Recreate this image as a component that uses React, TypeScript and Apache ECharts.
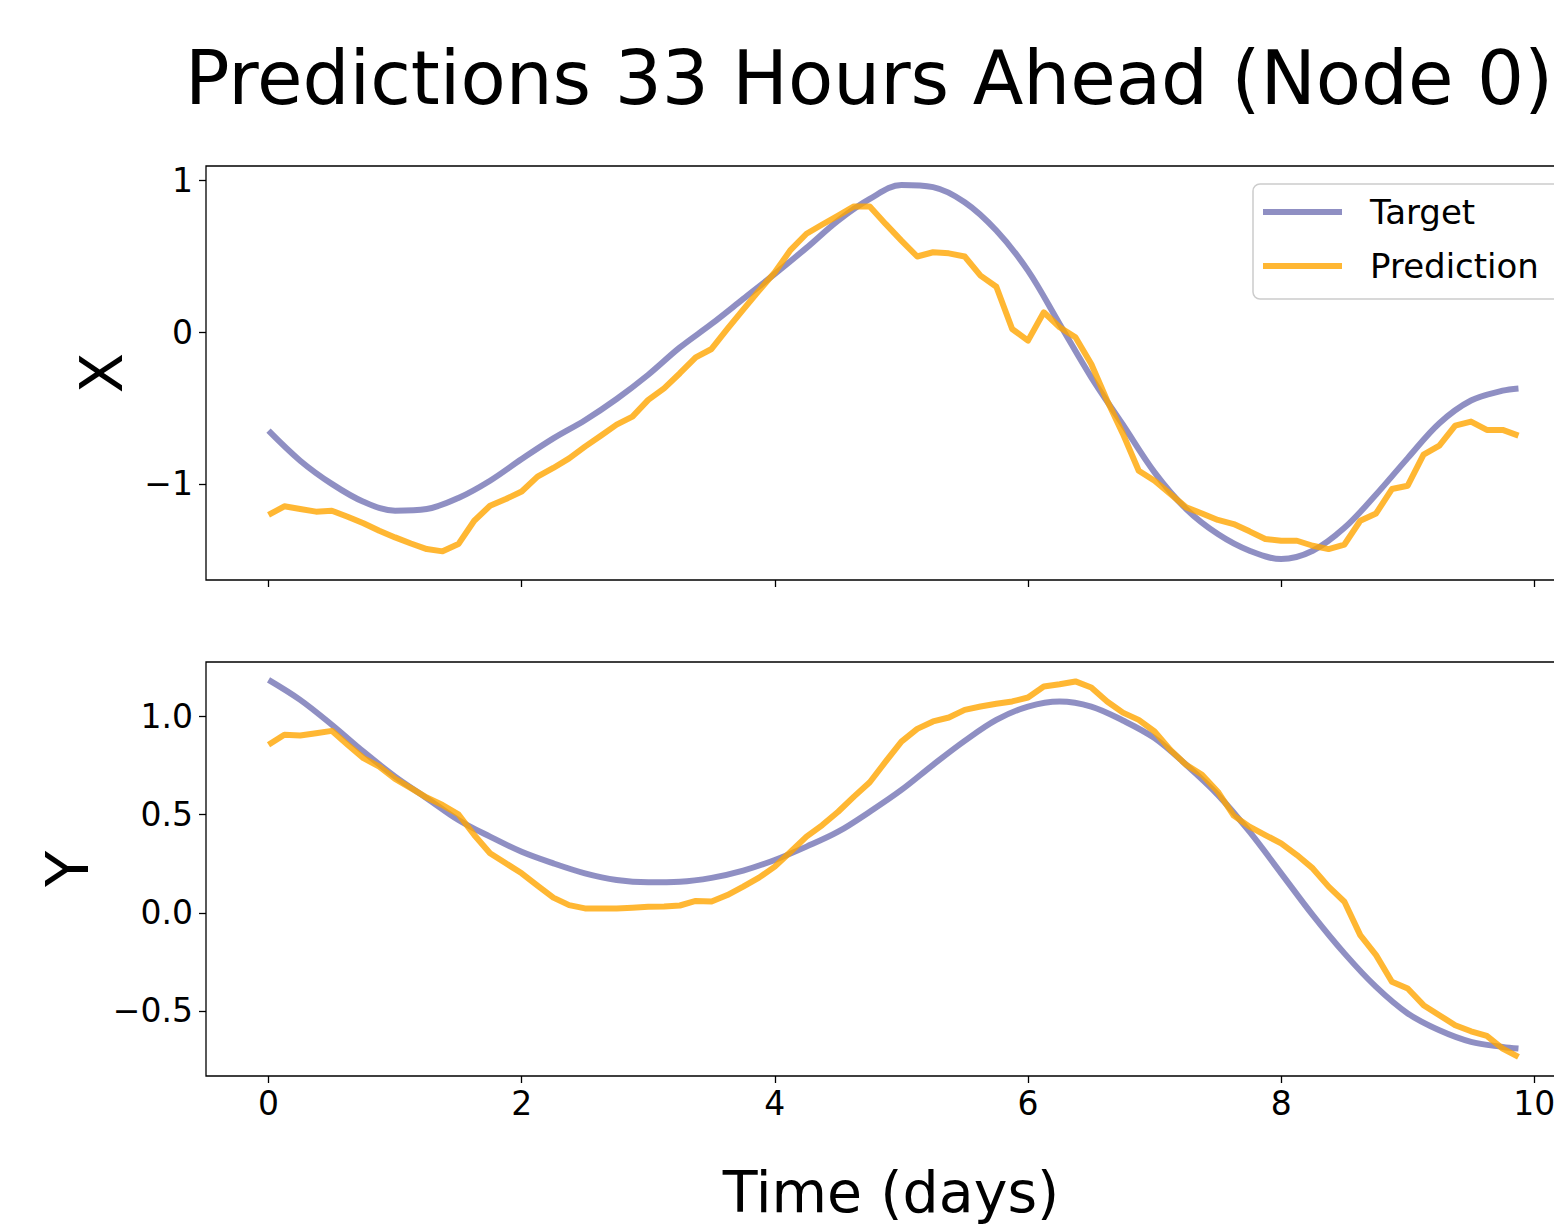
import React, { useEffect, useRef } from 'react';
import * as echarts from 'echarts';

// ---------- data ----------
const STEP_DAYS = 0.125; // predictions sampled every 3 hours

const targetDays = [
  0, 0.25, 0.5, 0.75, 1.0, 1.25, 1.5, 1.75, 2.0, 2.25, 2.5, 2.75, 3.0, 3.25, 3.5, 3.75,
  4.0, 4.25, 4.5, 4.75, 5.0, 5.25, 5.5, 5.75, 6.0, 6.25, 6.5, 6.75, 7.0, 7.25, 7.5, 7.75,
  8.0, 8.25, 8.5, 8.75, 9.0, 9.25, 9.5, 9.75, 9.875,
];

const targetX = [
  -0.649, -0.847, -1.0, -1.118, -1.177, -1.166, -1.093, -0.979, -0.836, -0.7, -0.58, -0.44,
  -0.28, -0.1, 0.055, 0.22, 0.385, 0.557, 0.737, 0.88, 0.972, 0.958, 0.858, 0.671, 0.407,
  0.055, -0.297, -0.61, -0.924, -1.166, -1.331, -1.441, -1.496, -1.441, -1.29, -1.07,
  -0.83, -0.6, -0.45, -0.385, -0.37,
];

const predX = [
  -1.205, -1.148, -1.166, -1.183, -1.177, -1.217, -1.26, -1.309, -1.353, -1.393, -1.43,
  -1.445, -1.397, -1.243, -1.144, -1.1, -1.05, -0.952, -0.895, -0.832, -0.754, -0.682,
  -0.609, -0.556, -0.446, -0.37, -0.27, -0.165, -0.11, 0.022, 0.15, 0.275, 0.396, 0.544,
  0.65, 0.711, 0.77, 0.83, 0.83, 0.715, 0.605, 0.5, 0.528, 0.521, 0.5, 0.374, 0.3, 0.022,
  -0.055, 0.132, 0.033, -0.033, -0.209, -0.45, -0.67, -0.913, -0.979, -1.067, -1.155,
  -1.195, -1.238, -1.265, -1.313, -1.364, -1.375, -1.375, -1.408, -1.43, -1.4, -1.243,
  -1.195, -1.034, -1.012, -0.807, -0.748, -0.616, -0.589, -0.644, -0.644, -0.682,
];

const targetY = [
  1.187, 1.085, 0.958, 0.821, 0.694, 0.584, 0.473, 0.388, 0.311, 0.252, 0.201, 0.167,
  0.155, 0.158, 0.178, 0.215, 0.269, 0.337, 0.413, 0.515, 0.626, 0.754, 0.876, 0.983,
  1.051, 1.077, 1.051, 0.98, 0.89, 0.754, 0.601, 0.413, 0.201, -0.012, -0.207, -0.378,
  -0.513, -0.599, -0.658, -0.684, -0.692,
];

const predY = [
  0.856, 0.907, 0.903, 0.915, 0.927, 0.856, 0.788, 0.745, 0.682, 0.635, 0.587, 0.549,
  0.502, 0.396, 0.303, 0.252, 0.201, 0.138, 0.077, 0.039, 0.022, 0.022, 0.022, 0.026,
  0.03, 0.032, 0.037, 0.06, 0.057, 0.09, 0.133, 0.179, 0.235, 0.311, 0.388, 0.447, 0.515,
  0.592, 0.665, 0.77, 0.872, 0.937, 0.975, 0.995, 1.034, 1.051, 1.065, 1.077, 1.097,
  1.153, 1.165, 1.179, 1.148, 1.077, 1.02, 0.983, 0.924, 0.83, 0.754, 0.703, 0.617, 0.495,
  0.439, 0.396, 0.354, 0.294, 0.226, 0.133, 0.056, -0.114, -0.216, -0.352, -0.386, -0.471,
  -0.522, -0.573, -0.604, -0.628, -0.692, -0.735,
];

const xTicks = [0, 2, 4, 6, 8, 10];
const yTopTicks = [-1, 0, 1];
const yBottomTicks = [-0.5, 0, 0.5, 1.0];

const TITLE = 'Predictions 33 Hours Ahead (Node 0)';
const X_LABEL = 'Time (days)';
const TOP_Y_LABEL = 'X';
const BOTTOM_Y_LABEL = 'Y';
const SERIES_NAMES = ['Target', 'Prediction'];

// ---------- styles ----------
const FONT = '"DejaVu Sans", "Noto Sans", sans-serif';
const PURPLE = 'rgba(20,20,130,0.48)';
const ORANGE = 'rgba(255,165,0,0.8)';

const X_MIN = -0.494;
const X_MAX = 10.369;

export default function App() {
  const ref = useRef<HTMLDivElement>(null);

  useEffect(() => {
    const chart = echarts.init(ref.current!, null, { renderer: 'svg' });
    const pair = (xs: number[], ys: number[]) => ys.map((y, i) => [xs[i], y]);
    const predDays = predX.map((_, i) => i * STEP_DAYS);
    const minus = (s: string) => s.replace('-', '\u2212');

    const tickStyle = { color: '#000', width: 1.3 };

    const xAxisBase = (gridIndex: number, showLabels: boolean) => ({
      type: 'value',
      gridIndex,
      min: X_MIN,
      max: X_MAX,
      splitLine: { show: false },
      axisLine: { show: false, onZero: false },
      axisTick: { show: true, inside: false, length: 7, lineStyle: tickStyle, customValues: xTicks },
      axisLabel: {
        show: showLabels,
        customValues: xTicks,
        fontSize: 33,
        fontFamily: FONT,
        color: '#000',
        margin: 11,
        formatter: (v: number) => minus(String(v)),
      },
    });

    const yAxisBase = (gridIndex: number, min: number, max: number, ticks: number[], fmt: (v: number) => string) => ({
      type: 'value',
      gridIndex,
      min,
      max,
      splitLine: { show: false },
      axisLine: { show: false, onZero: false },
      axisTick: { show: true, inside: false, length: 7, lineStyle: tickStyle, customValues: ticks },
      axisLabel: {
        customValues: ticks,
        fontSize: 33,
        fontFamily: FONT,
        color: '#000',
        margin: 13,
        formatter: fmt,
      },
    });

    const lineSeries = (name: string, idx: number, data: number[][], color: string, smooth: number | boolean) => ({
      type: 'line',
      name,
      xAxisIndex: idx,
      yAxisIndex: idx,
      data,
      showSymbol: false,
      symbol: 'none',
      smooth,
      lineStyle: { color, width: 6, cap: 'butt', join: 'round' },
      itemStyle: { color },
      emphasis: { disabled: true },
    });

    const gridBase = {
      left: 206,
      width: 1375,
      height: 414,
      show: true,
      borderColor: '#000',
      borderWidth: 1.3,
      backgroundColor: 'transparent',
      containLabel: false,
      outerBoundsMode: 'none',
    };

    chart.setOption({
      animation: false,
      backgroundColor: '#ffffff',
      grid: [
        { ...gridBase, top: 166 },
        { ...gridBase, top: 662 },
      ],
      xAxis: [xAxisBase(0, false), xAxisBase(1, true)],
      yAxis: [
        yAxisBase(0, -1.634, 1.097, yTopTicks, (v: number) => minus(String(v))),
        yAxisBase(1, -0.832, 1.278, yBottomTicks, (v: number) => minus(v.toFixed(1))),
      ],
      legend: {
        show: true,
        data: SERIES_NAMES,
        orient: 'vertical',
        left: 1253,
        top: 184,
        padding: [11, 30, 16, 10],
        itemGap: 20,
        itemWidth: 79,
        itemHeight: 6,
        icon: 'rect',
        selectedMode: false,
        textStyle: { fontSize: 34, color: '#000', fontFamily: FONT, padding: [0, 0, 0, 23] },
        borderColor: '#cccccc',
        borderWidth: 1.5,
        borderRadius: 7,
        backgroundColor: 'rgba(255,255,255,0.8)',
      },
      graphic: [
        {
          type: 'text',
          x: 869,
          y: 78,
          style: { text: TITLE, fontSize: 74, fontFamily: FONT, fill: '#000', textAlign: 'center', textVerticalAlign: 'middle' },
        },
        {
          type: 'text',
          x: 101,
          y: 373,
          rotation: Math.PI / 2,
          style: { text: TOP_Y_LABEL, fontSize: 59, fontFamily: FONT, fill: '#000', textAlign: 'center', textVerticalAlign: 'middle' },
        },
        {
          type: 'text',
          x: 67,
          y: 869,
          rotation: Math.PI / 2,
          style: { text: BOTTOM_Y_LABEL, fontSize: 59, fontFamily: FONT, fill: '#000', textAlign: 'center', textVerticalAlign: 'middle' },
        },
        {
          type: 'text',
          x: 891,
          y: 1192,
          style: { text: X_LABEL, fontSize: 57, fontFamily: FONT, fill: '#000', textAlign: 'center', textVerticalAlign: 'middle' },
        },
      ],
      series: [
        lineSeries(SERIES_NAMES[0], 0, pair(targetDays, targetX), PURPLE, 0.35),
        lineSeries(SERIES_NAMES[1], 0, pair(predDays, predX), ORANGE, false),
        lineSeries(SERIES_NAMES[0], 1, pair(targetDays, targetY), PURPLE, 0.35),
        lineSeries(SERIES_NAMES[1], 1, pair(predDays, predY), ORANGE, false),
      ],
    });

    return () => chart.dispose();
  }, []);

  return (
    <div
      ref={ref}
      style={{ position: 'absolute', left: 0, top: 0, width: 1554, height: 1225, background: '#fff' }}
    />
  );
}
